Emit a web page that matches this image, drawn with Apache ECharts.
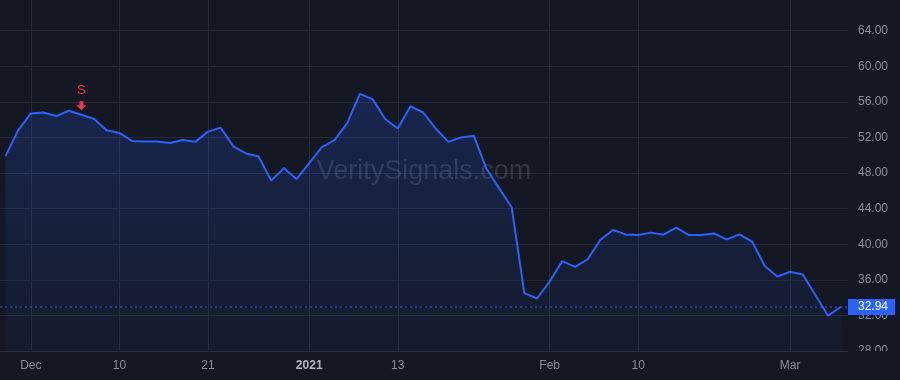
<!DOCTYPE html>
<html>
<head>
<meta charset="utf-8">
<title>VeritySignals</title>
<script src="https://cdn.jsdelivr.net/npm/echarts@6/dist/echarts.min.js"></script>
<style>
	html, body { margin: 0; padding: 0; background: #141823; }
	#chart { width: 900px; height: 380px; }
</style>
</head>
<body>
<div id="chart"></div>
<script>
// 交易日（2020-11-27 ~ 2021-03-05）
var dates = [
	'2020-11-27', '2020-11-30',
	'2020-12-01', '2020-12-02', '2020-12-03', '2020-12-04', '2020-12-07', '2020-12-08', '2020-12-09', '2020-12-10',
	'2020-12-11', '2020-12-14', '2020-12-15', '2020-12-16', '2020-12-17', '2020-12-18', '2020-12-21', '2020-12-22',
	'2020-12-23', '2020-12-24', '2020-12-28', '2020-12-29', '2020-12-30', '2020-12-31',
	'2021-01-04', '2021-01-05', '2021-01-06', '2021-01-07', '2021-01-08', '2021-01-11', '2021-01-12', '2021-01-13',
	'2021-01-14', '2021-01-15', '2021-01-19', '2021-01-20', '2021-01-21', '2021-01-22', '2021-01-25', '2021-01-26',
	'2021-01-27', '2021-01-28', '2021-01-29',
	'2021-02-01', '2021-02-02', '2021-02-03', '2021-02-04', '2021-02-05', '2021-02-08', '2021-02-09', '2021-02-10',
	'2021-02-11', '2021-02-12', '2021-02-16', '2021-02-17', '2021-02-18', '2021-02-19', '2021-02-22', '2021-02-23',
	'2021-02-24', '2021-02-25', '2021-02-26',
	'2021-03-01', '2021-03-02', '2021-03-03', '2021-03-04', '2021-03-05'
];

// 收盘价
var prices = [
	49.9, 52.8,
	54.7, 54.8, 54.4, 55.0, 54.55, 54.07, 52.8, 52.5,
	51.6, 51.55, 51.55, 51.37, 51.7, 51.5, 52.65, 53.1,
	51.0, 50.2, 49.85, 47.15, 48.55, 47.3,
	49.1, 50.9, 51.7, 53.6, 56.9, 56.3, 54.07, 53.0,
	55.5, 54.8, 53.0, 51.5, 52.0, 52.2, 48.5, 46.3,
	44.15, 34.5, 33.9,
	35.8, 38.1, 37.45, 38.3, 40.47, 41.6, 41.1, 41.03,
	41.3, 41.07, 41.85, 41.03, 41.03, 41.2, 40.55, 41.1,
	40.3, 37.55, 36.35,
	36.9, 36.6, 34.3, 31.97, 32.94
];

// x轴刻度
var tickDates = ['2020-12-01', '2020-12-10', '2020-12-21', '2021-01-04', '2021-01-13', '2021-02-01', '2021-02-10', '2021-03-01'];
var tickLabels = ['Dec', '10', '21', '2021', '13', 'Feb', '10', 'Mar'];
var yearTicks = ['2021'];

// y轴刻度
var yMin = 28;
var yMax = 67.44;
var yStep = 4;

// 信号点
var signalDate = '2020-12-07';
var signalText = 'S';

var lastPrice = prices[prices.length - 1];

var BLUE = '#2962ff';
var RED = '#f23645';
var GRID = '#262a36';
var TEXT = '#8b8e98';
var FONT = '"Liberation Sans", Arial, sans-serif';

function isTick(index) {
	return tickDates.indexOf(dates[index]) >= 0;
}

var chart = echarts.init(document.getElementById('chart'));

chart.setOption({
	backgroundColor: '#141823',
	animation: false,
	textStyle: { fontFamily: FONT },
	grid: [
		// 背景网格 + 右侧价格轴
		{ left: 0, right: 52, top: 0, bottom: 29 },
		// 价格曲线
		{ left: 5.5, right: 59.3, top: 0, bottom: 29 }
	],
	graphic: [
		{
			type: 'text',
			x: 424,
			y: 172,
			z: 1,
			style: {
				text: 'VeritySignals.com',
				font: '27px ' + FONT,
				fill: 'rgba(170,176,192,0.2)',
				textAlign: 'center',
				textVerticalAlign: 'middle'
			}
		},
		{
			// 遮住底部价格标签（模拟原图裁切）
			type: 'rect',
			shape: { x: 848, y: 351, width: 52, height: 29 },
			style: { fill: '#141823' },
			z: 100
		}
	],
	xAxis: [
		{
			gridIndex: 0,
			type: 'value',
			min: 0,
			max: 1,
			axisLine: { show: true, onZero: false, lineStyle: { color: '#2c303c' } },
			axisTick: { show: false },
			axisLabel: { show: false },
			splitLine: { show: false }
		},
		{
			gridIndex: 1,
			type: 'category',
			boundaryGap: false,
			data: dates,
			axisLine: { show: false },
			axisTick: { show: false },
			axisLabel: {
				interval: function (index) { return isTick(index); },
				margin: 9,
				color: TEXT,
				fontSize: 12,
				formatter: function (value) {
					var label = tickLabels[tickDates.indexOf(value)];
					if (yearTicks.indexOf(label) >= 0) {
						return '{year|' + label + '}';
					}
					return label;
				},
				rich: {
					year: { color: '#b2b5be', fontWeight: 'bold', fontSize: 12 }
				}
			},
			splitLine: {
				show: true,
				interval: function (index) { return isTick(index); },
				lineStyle: { color: GRID, width: 1 }
			}
		}
	],
	yAxis: [
		{
			gridIndex: 0,
			type: 'value',
			position: 'right',
			min: yMin,
			max: yMax,
			interval: yStep,
			axisLine: { show: false },
			axisTick: { show: false },
			axisLabel: {
				margin: 10,
				color: TEXT,
				fontSize: 12,
				showMaxLabel: false,
				formatter: function (v) { return v.toFixed(2); }
			},
			splitLine: {
				show: true,
				showMaxLine: false,
				showMinLine: false,
				lineStyle: { color: GRID, width: 1 }
			}
		},
		{
			gridIndex: 1,
			type: 'value',
			min: yMin,
			max: yMax,
			interval: yStep,
			show: false
		}
	],
	series: [
		{
			// 最新价虚线
			name: 'last',
			type: 'line',
			xAxisIndex: 0,
			yAxisIndex: 0,
			data: [[0, lastPrice], [1, lastPrice]],
			symbol: 'none',
			silent: true,
			z: 3,
			lineStyle: { color: BLUE, width: 1, type: [2, 3] },
			endLabel: {
				show: true,
				distance: 0,
				formatter: function (p) { return p.value[1].toFixed(2); },
				color: '#ffffff',
				fontSize: 12,
				lineHeight: 12,
				backgroundColor: BLUE,
				padding: [2, 7, 2, 10]
			}
		},
		{
			name: 'price',
			type: 'line',
			xAxisIndex: 1,
			yAxisIndex: 1,
			data: prices,
			symbol: 'none',
			z: 4,
			lineStyle: { color: BLUE, width: 2 },
			areaStyle: {
				color: new echarts.graphic.LinearGradient(0, 0, 0, 1, [
					{ offset: 0, color: 'rgba(41,98,255,0.28)' },
					{ offset: 1, color: 'rgba(41,98,255,0.05)' }
				])
			},
			markPoint: {
				symbol: 'path://M-2,0 L2,0 L2,4 L5,4 L0,9 L-5,4 L-2,4 Z',
				symbolSize: [10, 9],
				symbolOffset: [0, -9],
				itemStyle: { color: RED },
				label: {
					show: true,
					position: 'top',
					distance: 4,
					color: RED,
					fontSize: 13,
					formatter: signalText
				},
				data: [
					{ coord: [signalDate, prices[dates.indexOf(signalDate)]] }
				]
			}
		}
	]
});
</script>
</body>
</html>
